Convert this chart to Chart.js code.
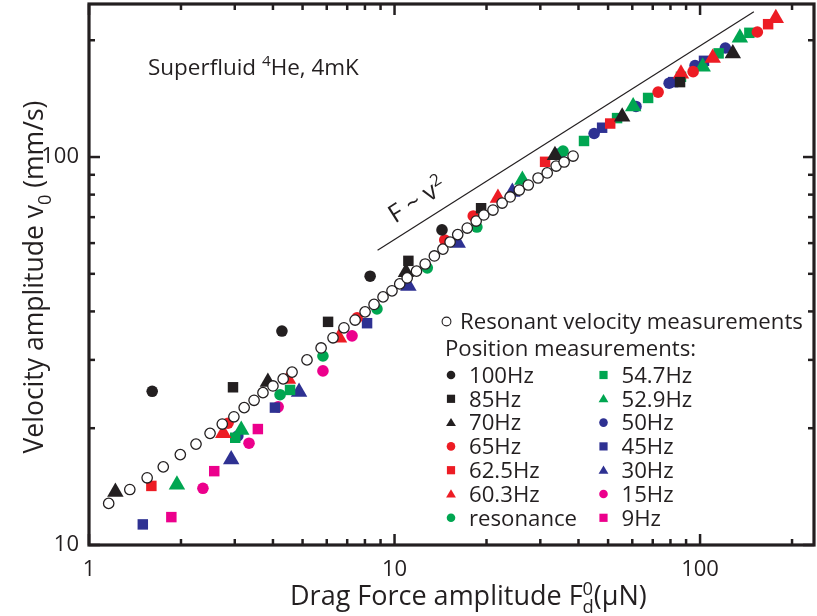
<!DOCTYPE html>
<html>
<head>
<meta charset="utf-8">
<title>Drag force amplitude vs velocity amplitude</title>
<script src="https://cdn.jsdelivr.net/npm/chart.js@4.4.1/dist/chart.umd.min.js"></script>
<style>
  html, body { margin: 0; padding: 0; background: #fff; }
  canvas { display: block; }
</style>
</head>
<body>
<canvas id="dragChart" width="817" height="616"></canvas>
<script>
const INK = '#231f20';
const RED = '#ed1c24';
const GREEN = '#00a651';
const BLUE = '#2e3192';
const PINK = '#ec008c';
const FAMILY = '"Open Sans", "DejaVu Sans", sans-serif';

// axis ticks
const forceTicks = [1, 2, 3, 4, 5, 6, 7, 8, 9, 10, 20, 30, 40, 50, 60, 70, 80, 90, 100, 200];
const forceLabels = [1, 10, 100];
const velTicks = [10, 20, 30, 40, 50, 60, 70, 80, 90, 100, 200];
const velLabels = [10, 100];

// resonant velocity measurements (open circles)
const resForce = [1.16, 1.36, 1.55, 1.75, 1.99, 2.24, 2.49, 2.73, 2.98, 3.22, 3.47, 3.71, 4.00, 4.32, 4.62,
  5.17, 5.75, 6.29, 6.83, 7.43, 8.01, 8.57, 9.17, 9.81, 10.4, 11.0, 11.8, 12.6, 13.5, 14.4,
  15.2, 16.1, 17.3, 18.5, 19.6, 21.0, 22.5, 23.9, 25.6, 27.4, 29.5, 31.6, 33.8, 35.9, 38.4];
const resVel = [12.8, 13.9, 14.9, 15.9, 17.1, 18.2, 19.4, 20.5, 21.4, 22.6, 23.6, 24.7, 25.7, 26.8, 27.9,
  30.0, 32.2, 34.2, 36.3, 38.0, 39.9, 41.7, 43.6, 45.2, 47.1, 48.8, 50.8, 53.0, 55.6, 57.9,
  60.4, 63.1, 65.6, 68.4, 70.9, 73.0, 76.1, 78.9, 82.2, 84.7, 88.3, 91.0, 94.8, 97.1, 100.6];

// position measurements
const f100 = [1.61, 4.28, 8.32, 14.3];
const v100 = [24.9, 35.6, 49.3, 64.9];
const f85 = [2.96, 6.06, 11.1, 19.2, 86.0];
const v85 = [25.5, 37.6, 54.0, 73.8, 156];
const f70 = [1.22, 3.85, 10.9, 33.5, 55.6, 128];
const v70 = [13.7, 26.3, 50.5, 101, 127, 185];
const f65 = [2.85, 7.54, 14.6, 18.1, 72.9, 94.9, 154];
const v65 = [20.6, 38.5, 61.1, 70.5, 147, 166, 210];
const f62 = [1.60, 31.1, 50.8, 167];
const v62 = [14.2, 97.2, 122, 220];
const f60 = [2.75, 4.48, 6.58, 21.8, 86.6, 110, 177];
const v60 = [19.4, 26.8, 34.2, 78.4, 164, 180, 228];
const fReso = [4.22, 5.83, 8.76, 12.8, 18.6, 35.6];
const vReso = [24.4, 30.7, 40.6, 51.8, 66.0, 103.6];
const f54 = [3.01, 4.55, 41.7, 53.5, 67.6, 86.6, 115, 145];
const v54 = [18.9, 25.1, 110, 126, 142, 161, 185, 209];
const f52 = [1.94, 3.15, 26.2, 60.4, 102, 135];
const v52 = [14.3, 19.8, 87.2, 135, 171, 203];
const f50 = [3.07, 45.0, 61.7, 79.2, 96.3, 121];
const v50 = [19.1, 115, 135, 155, 172, 191];
const f45 = [1.50, 4.06, 8.13, 34.8, 47.8, 81.6, 103];
const v45 = [11.3, 22.6, 37.3, 102, 119, 156, 177];
const f30 = [2.92, 4.87, 11.1, 16.1, 24.3];
const v30 = [16.6, 24.8, 46.5, 60.0, 81.2];
const f15 = [2.36, 3.34, 4.16, 5.83, 7.26];
const v15 = [14.0, 18.3, 22.7, 28.1, 34.6];
const f9 = [1.86, 2.57, 3.57];
const v9 = [11.8, 15.5, 19.9];

// F ~ v^2 guide line
const fitForce = [8.8, 150];
const fitVel = [57.5, 237];

const seriesLabels = ['100Hz', '85Hz', '70Hz', '65Hz', '62.5Hz', '60.3Hz', 'resonance',
  '54.7Hz', '52.9Hz', '50Hz', '45Hz', '30Hz', '15Hz', '9Hz'];
const seriesForce = [f100, f85, f70, f65, f62, f60, fReso, f54, f52, f50, f45, f30, f15, f9];
const seriesVel = [v100, v85, v70, v65, v62, v60, vReso, v54, v52, v50, v45, v30, v15, v9];
const seriesStyle = ['circle', 'rect', 'triangle', 'circle', 'rect', 'triangle', 'circle',
  'rect', 'triangle', 'circle', 'rect', 'triangle', 'circle', 'rect'];
const seriesColor = [INK, INK, INK, RED, RED, RED, GREEN, GREEN, GREEN, BLUE, BLUE, BLUE, PINK, PINK];
const markerRadius = { circle: 5.8, rect: 7.4, triangle: 9.5 };

const toPoints = (xs, ys) => xs.map((x, i) => ({ x: x, y: ys[i] }));

const datasets = [
  {
    label: 'Resonant velocity measurements',
    data: toPoints(resForce, resVel),
    pointStyle: 'circle',
    pointRadius: 5.2,
    backgroundColor: '#fff',
    borderColor: INK,
    pointBorderWidth: 1.3
  },
  {
    label: 'F ~ v2',
    data: toPoints(fitForce, fitVel),
    showLine: true,
    borderColor: INK,
    borderWidth: 1.2,
    pointRadius: 0
  }
];
seriesLabels.forEach((label, i) => {
  datasets.push({
    label: label,
    data: toPoints(seriesForce[i], seriesVel[i]),
    pointStyle: seriesStyle[i],
    pointRadius: markerRadius[seriesStyle[i]],
    backgroundColor: seriesColor[i],
    borderColor: seriesColor[i],
    pointBorderWidth: 0
  });
});

// text helpers: parts can be sub/superscripts; 'stack' keeps x in place
function partSize(p, size) {
  return p.sub || p.sup ? size * 0.68 : size;
}
function richWidth(ctx, parts, size) {
  let w = 0;
  parts.forEach(p => {
    ctx.font = partSize(p, size) + 'px ' + FAMILY;
    if (!p.stack) w += ctx.measureText(p.t).width;
  });
  return w;
}
function fitSize(ctx, parts, target) {
  return 100 * target / richWidth(ctx, parts, 100);
}
function drawRich(ctx, parts, x, y, size) {
  parts.forEach(p => {
    ctx.font = partSize(p, size) + 'px ' + FAMILY;
    const dy = p.sub ? size * 0.3 : p.sup ? -size * 0.38 : 0;
    ctx.fillText(p.t, x, y + dy);
    if (!p.stack) x += ctx.measureText(p.t).width;
  });
}
function drawMarker(ctx, style, x, y, r) {
  ctx.beginPath();
  if (style === 'circle') {
    ctx.arc(x, y, r, 0, Math.PI * 2);
  } else if (style === 'rect') {
    ctx.rect(x - r, y - r, 2 * r, 2 * r);
  } else {
    ctx.moveTo(x, y - r * 1.15);
    ctx.lineTo(x + r * 1.2, y + r * 0.85);
    ctx.lineTo(x - r * 1.2, y + r * 0.85);
    ctx.closePath();
  }
  ctx.fill();
}

const framePlugin = {
  id: 'frame',
  afterDraw(chart) {
    const { ctx, chartArea: a } = chart;
    const x = chart.scales.x;
    const y = chart.scales.y;
    const tick = (x1, y1, x2, y2) => {
      ctx.beginPath();
      ctx.moveTo(x1, y1);
      ctx.lineTo(x2, y2);
      ctx.stroke();
    };
    ctx.save();
    ctx.strokeStyle = INK;
    ctx.lineWidth = 2.5;
    forceTicks.forEach(v => {
      const px = x.getPixelForValue(v);
      const len = forceLabels.includes(v) ? 11 : 6;
      tick(px, a.bottom, px, a.bottom - len);
      tick(px, a.top, px, a.top + len);
    });
    velTicks.forEach(v => {
      const py = y.getPixelForValue(v);
      const len = velLabels.includes(v) ? 11 : 6;
      tick(a.left, py, a.left + len, py);
      tick(a.right, py, a.right - len, py);
    });
    ctx.lineWidth = 3.2;
    ctx.strokeRect(a.left, a.top, a.right - a.left, a.bottom - a.top);
    ctx.restore();
  }
};

const notesPlugin = {
  id: 'notes',
  afterDraw(chart) {
    const ctx = chart.ctx;
    const x = chart.scales.x;
    const y = chart.scales.y;
    ctx.save();
    ctx.fillStyle = INK;
    ctx.textBaseline = 'alphabetic';
    ctx.textAlign = 'left';

    // axis titles
    const xTitle = [{ t: 'Drag Force amplitude F' }, { t: '0', sup: true, stack: true }, { t: 'd', sub: true }, { t: '(\u03bcN)' }];
    drawRich(ctx, xTitle, 290, 605, fitSize(ctx, xTitle, 357));
    const yTitle = [{ t: 'Velocity amplitude v' }, { t: '0', sub: true }, { t: ' (mm/s)' }];
    const ySize = fitSize(ctx, yTitle, 353);
    ctx.save();
    ctx.translate(43, 277);
    ctx.rotate(-Math.PI / 2);
    drawRich(ctx, yTitle, -176.5, 0, ySize);
    ctx.restore();

    // sample label
    const sample = [{ t: 'Superfluid ' }, { t: '4', sup: true }, { t: 'He, 4mK' }];
    drawRich(ctx, sample, 148, 75, fitSize(ctx, sample, 211));

    // guide line label, along the line
    const x1 = x.getPixelForValue(fitForce[0]), y1 = y.getPixelForValue(fitVel[0]);
    const x2 = x.getPixelForValue(fitForce[1]), y2 = y.getPixelForValue(fitVel[1]);
    const ang = Math.atan2(y2 - y1, x2 - x1);
    ctx.save();
    ctx.translate(x1 + (x2 - x1) * 0.065, y1 + (y2 - y1) * 0.065);
    ctx.rotate(ang);
    drawRich(ctx, [{ t: 'F ~ v' }, { t: '2', sup: true }], 0, -13, 25);
    ctx.restore();

    // legend
    const header = [{ t: 'Resonant velocity measurements' }];
    const lsize = fitSize(ctx, header, 343);
    ctx.beginPath();
    ctx.arc(446.5, 321.5, 4.4, 0, Math.PI * 2);
    ctx.fillStyle = '#fff';
    ctx.fill();
    ctx.strokeStyle = INK;
    ctx.lineWidth = 1.1;
    ctx.stroke();
    ctx.fillStyle = INK;
    drawRich(ctx, header, 460, 329, lsize);
    drawRich(ctx, [{ t: 'Position measurements:' }], 445, 355.5, lsize);
    seriesLabels.forEach((label, i) => {
      const col = i < 7 ? 0 : 1;
      const row = i % 7;
      const cy = 375 + row * 23.8;
      const mx = col ? 603.5 : 451;
      ctx.fillStyle = seriesColor[i];
      drawMarker(ctx, seriesStyle[i], mx, cy, seriesStyle[i] === 'circle' ? 4.3 : 4.1);
      ctx.fillStyle = INK;
      drawRich(ctx, [{ t: label }], col ? 621.5 : 469, cy + 7.8, lsize);
    });
    ctx.restore();
  }
};

new Chart(document.getElementById('dragChart'), {
  type: 'scatter',
  data: { datasets: datasets },
  options: {
    responsive: false,
    animation: false,
    devicePixelRatio: 1,
    layout: { autoPadding: false, padding: { top: 4, right: 3, left: 0, bottom: 0 } },
    plugins: {
      legend: { display: false },
      tooltip: { enabled: false },
      title: { display: false }
    },
    scales: {
      x: {
        type: 'logarithmic',
        min: 1,
        max: 236,
        grid: { display: false, drawTicks: false },
        border: { display: false },
        afterBuildTicks: s => { s.ticks = forceTicks.map(v => ({ value: v })); },
        afterFit: s => { s.height = 71; s.paddingLeft = 0; s.paddingRight = 0; },
        ticks: {
          autoSkip: false,
          maxRotation: 0,
          padding: 12,
          color: INK,
          font: { family: FAMILY, size: 22 },
          callback: v => forceLabels.includes(v) ? String(v) : ''
        }
      },
      y: {
        type: 'logarithmic',
        min: 10,
        max: 248,
        grid: { display: false, drawTicks: false },
        border: { display: false },
        afterBuildTicks: s => { s.ticks = velTicks.map(v => ({ value: v })); },
        afterFit: s => { s.width = 89; s.paddingTop = 0; s.paddingBottom = 0; },
        ticks: {
          autoSkip: false,
          padding: 10,
          color: INK,
          font: { family: FAMILY, size: 22 },
          callback: v => velLabels.includes(v) ? String(v) : ''
        }
      }
    }
  },
  plugins: [framePlugin, notesPlugin]
});
</script>
</body>
</html>
